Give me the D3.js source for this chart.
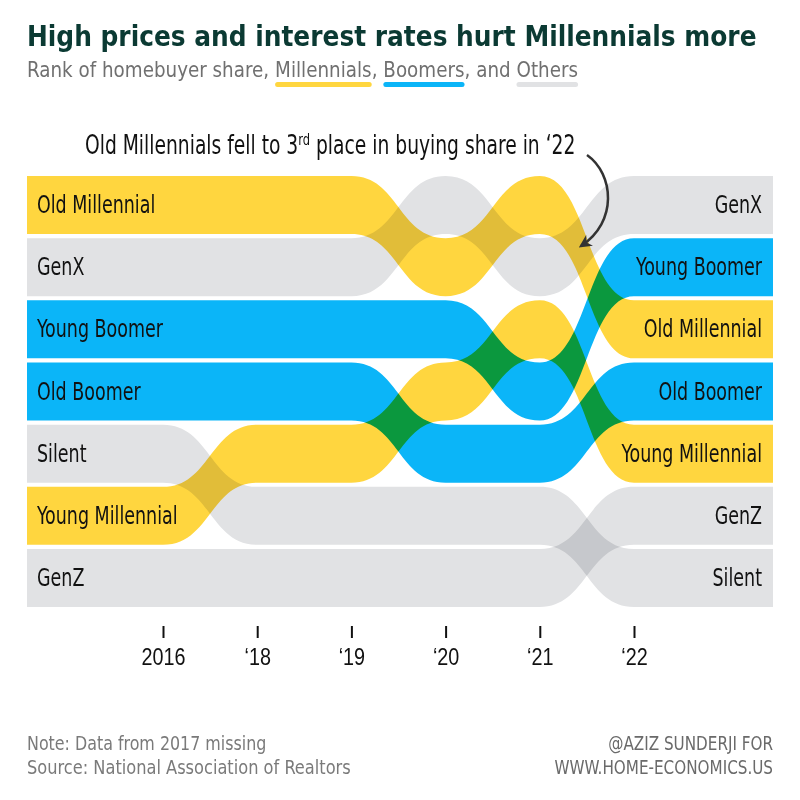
<!DOCTYPE html>
<html>
<head>
<meta charset="utf-8">
<script src="https://cdn.jsdelivr.net/npm/d3@7"></script>
<style>
  body { margin: 0; background: #fff; }
  svg { display: block; font-family: "DejaVu Sans Condensed", "DejaVu Sans", sans-serif; }
  .band { mix-blend-mode: multiply; }
</style>
</head>
<body>
<div id="chart"></div>
<script>
// data
const years = ["2016", "\u201818", "\u201819", "\u201820", "\u201821", "\u201822"];
const groups = ["Old Millennial", "GenX", "Young Boomer", "Old Boomer", "Silent", "Young Millennial", "GenZ"];
const families = ["Millennials", "Others", "Boomers", "Boomers", "Others", "Millennials", "Others"];
const ranks = [
  [1, 1, 1, 2, 1, 3],   // Old Millennial
  [2, 2, 2, 1, 2, 1],   // GenX
  [3, 3, 3, 3, 4, 2],   // Young Boomer
  [4, 4, 4, 5, 5, 4],   // Old Boomer
  [5, 6, 6, 6, 6, 7],   // Silent
  [6, 5, 5, 4, 3, 5],   // Young Millennial
  [7, 7, 7, 7, 7, 6]    // GenZ
];
const legendKeys = ["Millennials", "Boomers", "Others"];
const legendColors = ["#FFD63F", "#0BB5F8", "#E1E2E4"];

const W = 800, H = 800;
const left = 27, right = 773;
const bandH = 58;

const svg = d3.select("#chart").append("svg")
    .attr("width", W)
    .attr("height", H);

// the font is wider than the original one, so squeeze text horizontally
function squeeze(sel, k) {
    sel.each(function() {
        const t = d3.select(this);
        const x0 = +t.attr("x"), y0 = +t.attr("y");
        t.attr("x", 0).attr("y", 0)
         .attr("transform", `translate(${x0},${y0}) scale(${k},1)`);
    });
}

const color = d3.scaleOrdinal().domain(legendKeys).range(legendColors);

const x = d3.scalePoint().domain(years).range([163, 634]);
const y = d3.scaleLinear().domain([1, 7]).range([205, 578]);

// title + subtitle
const title = svg.append("text")
    .attr("x", left).attr("y", 46)
    .style("font-size", "29px").style("font-weight", "bold")
    .style("fill", "#0B3A33")
    .text("High prices and interest rates hurt Millennials more");
const titleW = title.node().getComputedTextLength();
squeeze(title, Math.min(1, (right - left - 16) / titleW));

const pieces = ["Rank of homebuyer share, ", "Millennials", ", ", "Boomers", ", and ", "Others"];
const subK = 0.97;
let cx = left;
pieces.forEach(function(p) {
    const t = svg.append("text")
        .attr("x", cx).attr("y", 77)
        .style("font-size", "21px")
        .style("fill", "#707070")
        .attr("xml:space", "preserve")
        .text(p);
    const w = t.node().getComputedTextLength() * subK;
    squeeze(t, subK);
    if (legendKeys.includes(p)) {
        svg.append("rect")
            .attr("x", cx).attr("y", 82)
            .attr("width", w).attr("height", 5)
            .attr("rx", 2.5)
            .style("fill", color(p));
    }
    cx += w;
});

// bands
const area = d3.area()
    .x(d => d[0])
    .y0(d => y(d[1]) - bandH / 2)
    .y1(d => y(d[1]) + bandH / 2)
    .curve(d3.curveBumpX);

const bands = svg.append("g");
groups.forEach(function(g, i) {
    const pts = [[left, ranks[i][0]]];
    years.forEach((yr, j) => pts.push([x(yr), ranks[i][j]]));
    pts.push([right, ranks[i][ranks[i].length - 1]]);
    bands.append("path")
        .attr("class", "band")
        .attr("d", area(pts))
        .style("fill", color(families[i]));
});

// labels
svg.selectAll("text.leftlab")
    .data(groups)
    .join("text")
    .attr("class", "leftlab")
    .attr("x", 37)
    .attr("y", (d, i) => y(ranks[i][0]) + 8)
    .style("font-size", "24px")
    .style("fill", "#111")
    .text(d => d)
    .call(squeeze, 0.81);

svg.selectAll("text.rightlab")
    .data(groups)
    .join("text")
    .attr("class", "rightlab")
    .attr("x", 762)
    .attr("y", (d, i) => y(ranks[i][ranks[i].length - 1]) + 8)
    .attr("text-anchor", "end")
    .style("font-size", "24px")
    .style("fill", "#111")
    .text(d => d)
    .call(squeeze, 0.81);

// x axis
const axis = svg.append("g")
    .attr("transform", "translate(0,626)")
    .call(d3.axisBottom(x).tickSize(12).tickPadding(11));
axis.select(".domain").remove();
axis.selectAll(".tick line").attr("stroke", "#111").attr("stroke-width", 2);
axis.selectAll(".tick text")
    .style("font-size", "23px")
    .style("font-family", "inherit")
    .attr("fill", "#111")
    .attr("transform", "scale(0.86,1)");

// annotation
const note = svg.append("text")
    .attr("x", 85).attr("y", 154)
    .style("font-size", "26px")
    .style("fill", "#111");
note.append("tspan").text("Old Millennials fell to 3");
note.append("tspan").attr("dy", -9).style("font-size", "16px").text("rd");
note.append("tspan").attr("dy", 9).text(" place in buying share in \u201822");
squeeze(note, 0.8);

svg.append("defs").append("marker")
    .attr("id", "arrow")
    .attr("viewBox", "0 0 10 10")
    .attr("refX", 8).attr("refY", 5)
    .attr("markerWidth", 13).attr("markerHeight", 13)
    .attr("markerUnits", "userSpaceOnUse")
    .attr("orient", "auto")
    .append("path")
    .attr("d", "M0,0 L10,5 L0,10 L3,5 Z")
    .style("fill", "#333");

svg.append("path")
    .attr("d", "M587,155 C614,174 618,222 581,246")
    .attr("fill", "none")
    .attr("stroke", "#333")
    .attr("stroke-width", 2.5)
    .attr("marker-end", "url(#arrow)");

// footer
svg.append("text").attr("x", left).attr("y", 750)
    .style("font-size", "19px").style("fill", "#7a7a7a")
    .text("Note: Data from 2017 missing")
    .call(squeeze, 0.93);
svg.append("text").attr("x", left).attr("y", 774)
    .style("font-size", "19px").style("fill", "#7a7a7a")
    .text("Source: National Association of Realtors")
    .call(squeeze, 0.95);
svg.append("text").attr("x", right).attr("y", 750)
    .attr("text-anchor", "end")
    .style("font-size", "19px").style("fill", "#6a6a6a")
    .text("@AZIZ SUNDERJI FOR")
    .call(squeeze, 0.89);
svg.append("text").attr("x", right).attr("y", 774)
    .attr("text-anchor", "end")
    .style("font-size", "19px").style("fill", "#6a6a6a")
    .text("WWW.HOME-ECONOMICS.US")
    .call(squeeze, 0.89);
</script>
</body>
</html>
